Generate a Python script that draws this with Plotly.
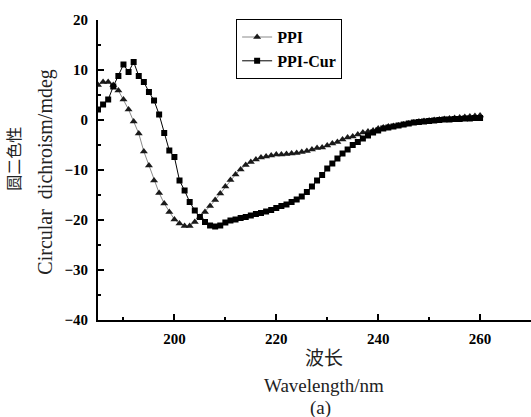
import plotly.graph_objects as go

# Wavelength grid (nm), one reading per nm
wavelength = list(range(185, 261))

# CD signal (mdeg) for native PPI
ppi = [7.0, 7.6, 7.6, 7.0, 5.9, 4.1, 2.1, -0.3, -2.7, -6.3,
       -9.1, -12.1, -14.6, -16.7, -18.4, -19.9, -20.7, -21.2, -21.2, -20.4,
       -19.4, -18.4, -17.2, -16.0, -14.7, -13.3, -12.0, -10.9, -9.9, -9.0,
       -8.4, -7.9, -7.5, -7.3, -7.1, -6.9, -6.9, -6.8, -6.7, -6.6,
       -6.4, -6.2, -5.9, -5.6, -5.5, -5.1, -4.7, -4.4, -3.9, -3.5,
       -3.3, -2.9, -2.5, -2.3, -2.1, -1.7, -1.5, -1.3, -1.2, -1.1,
       -0.9, -0.7, -0.5, -0.3, -0.2, -0.1, 0.0, 0.1, 0.2, 0.3,
       0.4, 0.5, 0.6, 0.7, 0.8, 0.9]

# CD signal (mdeg) for the PPI-curcumin complex
ppi_cur = [2.1, 3.1, 4.1, 6.7, 8.8, 11.1, 9.6, 11.6, 8.8, 7.6,
           5.6, 3.9, 1.1, -2.6, -6.1, -7.4, -12.1, -14.1, -16.4, -18.1,
           -19.4, -20.4, -21.1, -21.3, -21.1, -20.5, -20.1, -19.9, -19.6, -19.4,
           -19.1, -18.8, -18.6, -18.3, -18.0, -17.6, -17.2, -16.9, -16.4, -15.9,
           -15.3, -14.4, -13.3, -12.1, -11.0, -9.7, -8.7, -7.7, -6.7, -5.9,
           -5.0, -4.4, -3.7, -3.1, -2.5, -2.1, -1.7, -1.5, -1.3, -1.1,
           -0.9, -0.7, -0.5, -0.4, -0.3, -0.2, -0.1, 0.0, 0.1, 0.1,
           0.2, 0.2, 0.3, 0.3, 0.4, 0.4]

SERIF = "Liberation Serif, Times New Roman, Noto Sans CJK SC, serif"

fig = go.Figure()
fig.add_trace(go.Scatter(
    x=wavelength, y=ppi, name="PPI", mode="lines+markers",
    line=dict(color="#8a8a8a", width=1),
    marker=dict(symbol="triangle-up", size=7, color="#1a1a1a"),
))
fig.add_trace(go.Scatter(
    x=wavelength, y=ppi_cur, name="PPI-Cur", mode="lines+markers",
    line=dict(color="#000000", width=1),
    marker=dict(symbol="square", size=6, color="#000000"),
))

axis_common = dict(
    showline=True, linecolor="black", linewidth=2,
    ticks="inside", ticklen=6, tickwidth=2, tickcolor="black",
    showgrid=False, zeroline=False, mirror=False,
    tickfont=dict(family=SERIF, size=15, color="black", weight=700),
)

fig.update_xaxes(
    range=[185, 270], tick0=0, dtick=20, ticklabelstandoff=4,
    minor=dict(ticks="inside", ticklen=3, tickwidth=1.5, tickcolor="black", dtick=10, tick0=0),
    **axis_common,
)
fig.update_yaxes(
    range=[-40, 20], tick0=0, dtick=10, ticklabelstandoff=5,
    minor=dict(ticks="inside", ticklen=3, tickwidth=1.5, tickcolor="black", dtick=5, tick0=0),
    **axis_common,
)

title_font = dict(family=SERIF, size=19, color="#222")
annotations = [
    dict(text="波长", x=0.522, y=-0.127),
    dict(text="Wavelength/nm", x=0.522, y=-0.217),
    dict(text="(a)", x=0.515, y=-0.293),
]
for a in annotations:
    fig.add_annotation(xref="paper", yref="paper", showarrow=False,
                       xanchor="center", yanchor="middle", font=title_font, **a)

fig.add_annotation(text="圆二色性", xref="paper", yref="paper", x=-0.192, y=0.537,
                   textangle=-90, showarrow=False, xanchor="center", yanchor="middle",
                   font=dict(family=SERIF, size=16, color="#222"))
fig.add_annotation(text="Circular  dichroism/mdeg", xref="paper", yref="paper",
                   x=-0.122, y=0.495, textangle=-90, showarrow=False,
                   xanchor="center", yanchor="middle",
                   font=dict(family=SERIF, size=20, color="#222"))

fig.update_layout(
    width=531, height=417,
    margin=dict(l=98, r=0, t=20, b=97),
    paper_bgcolor="white", plot_bgcolor="white",
    showlegend=True,
    legend=dict(
        x=0.319, y=1.003, xanchor="left", yanchor="top",
        bgcolor="white", bordercolor="black", borderwidth=1,
        font=dict(family=SERIF, size=16, color="black", weight=700),
        tracegroupgap=0,
    ),
)

fig.write_html("out.html")
